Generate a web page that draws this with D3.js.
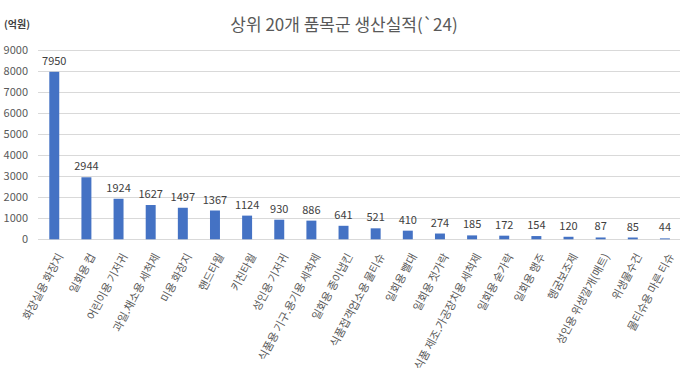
<!DOCTYPE html>
<html><head><meta charset="utf-8">
<script src="https://cdn.jsdelivr.net/npm/d3@7"></script>
<style>body{margin:0;background:#fff;} svg{display:block;font-family:"Noto Sans CJK KR","Noto Sans",sans-serif;}</style>
</head><body>
<svg id="c" width="680" height="373"></svg>
<script>
const categories = ["화장실용 화장지","일회용 컵","어린이용 기저귀","과일.채소용 세척제","미용 화장지","핸드타월","키친타월","성인용 기저귀","식품용 기구.용기용 세척제","일회용 종이냅킨","식품접객업소용 물티슈","일회용 빨대","일회용 젓가락","식품 제조.가공장치용 세척제","일회용 숟가락","일회용 행주","헹굼보조제","성인용 위생깔개(매트)","위생물수건","물티슈용 마른 티슈"];
const values = [7950,2944,1924,1627,1497,1367,1124,930,886,641,521,410,274,185,172,154,120,87,85,44];
const yTicks = [0,1000,2000,3000,4000,5000,6000,7000,8000,9000];
const title = "상위 20개 품목군 생산실적(`24)";
const unitLabel = "(억원)";

const svg = d3.select("#c");
const x = d3.scaleBand().domain(categories).range([38.2, 681]).paddingInner(0.69).paddingOuter(0.345);
const y = d3.scaleLinear().domain([0, 9000]).range([239.3, 49.7]);

// gridlines
svg.append("g").selectAll("line").data(yTicks).join("line")
  .attr("x1", 38).attr("x2", 680)
  .attr("y1", d => Math.round(y(d)) + 0.5).attr("y2", d => Math.round(y(d)) + 0.5)
  .attr("stroke", "#d9d9d9").attr("stroke-width", 1);

// y axis labels
const yAxis = d3.axisLeft(y).tickValues(yTicks).tickSize(0).tickPadding(0).tickFormat(d3.format("d"));
const ya = svg.append("g").attr("transform", "translate(28,0)").call(yAxis);
ya.select(".domain").remove();
ya.selectAll("text").attr("fill", "#595959").style("font-size", "11px").style("font-family", '"Noto Sans CJK KR",sans-serif');

// bars
svg.append("g").selectAll("rect").data(values).join("rect")
  .attr("x", (d, i) => x(categories[i]))
  .attr("width", x.bandwidth())
  .attr("y", d => y(d))
  .attr("height", d => y(0) - y(d))
  .attr("fill", "#4472C4");

// value labels
svg.append("g").selectAll("text").data(values).join("text")
  .attr("x", (d, i) => x(categories[i]) + x.bandwidth() / 2)
  .attr("y", d => y(d) - 7)
  .attr("text-anchor", "middle")
  .attr("fill", "#404040")
  .style("font-size", "11px")
  .text(d => d);

// category labels
const xAxis = d3.axisBottom(x).tickSize(0).tickPadding(0);
const xa = svg.append("g").attr("transform", "translate(0,239.3)").call(xAxis);
xa.select(".domain").remove();
xa.selectAll("text")
  .attr("transform", "translate(6,15) rotate(-62)")
  .attr("x", 0).attr("y", 0).attr("dy", "0.35em")
  .attr("text-anchor", "end")
  .attr("fill", "#595959")
  .style("font-size", "11px")
  .style("font-family", '"Noto Sans CJK KR",sans-serif');

// title
svg.append("text").attr("x", 344).attr("y", 31).attr("text-anchor", "middle")
  .attr("fill", "#595959").style("font-size", "17px").text(title);
svg.append("text").attr("x", 4).attr("y", 28)
  .attr("fill", "#404040").style("font-size", "10px").style("font-weight", "bold").text(unitLabel);
</script>
</body></html>
